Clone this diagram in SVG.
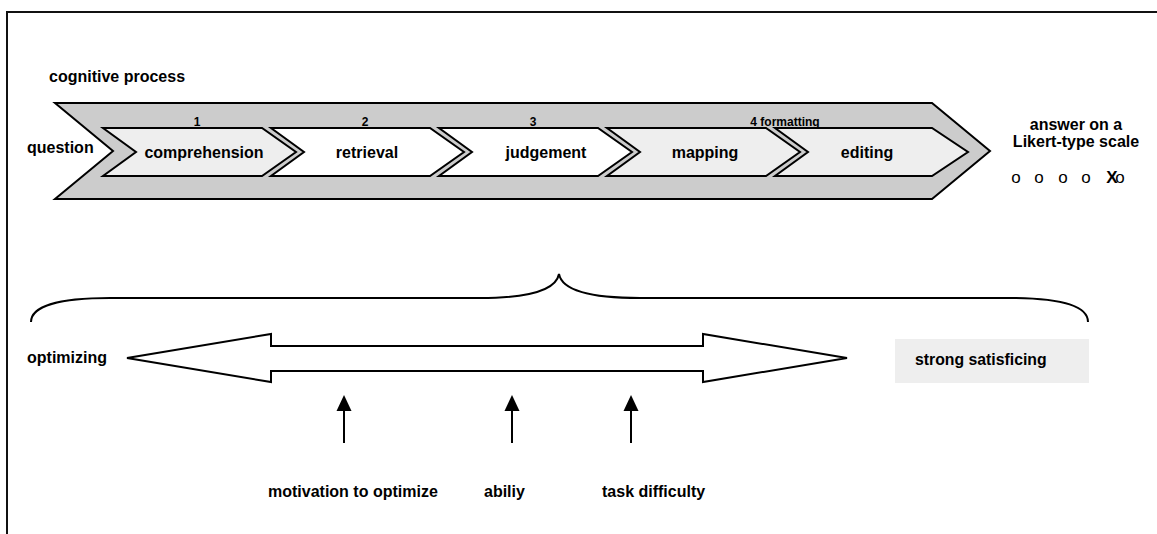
<svg xmlns="http://www.w3.org/2000/svg" width="1157" height="534" viewBox="0 0 1157 534">
<style>
text{font-family:"Liberation Sans",Arial,sans-serif;font-weight:bold;fill:#000}
.t16{font-size:16px}
.t12{font-size:12px}
.c{text-anchor:middle}
.o{font-size:17px;font-weight:normal;text-anchor:middle}
.chev{stroke:#000;stroke-width:2;stroke-linejoin:miter}
.lt{fill:#eeeeee}
.wh{fill:#ffffff}
.ln{fill:none;stroke:#000;stroke-width:2}
</style>
<g id="frame">
<path d="M7,534 L7,12 L1157,12" fill="none" stroke="#111" stroke-width="2"/>
</g>
<text class="t16" x="49" y="82">cognitive process</text>
<g id="process">
<polygon class="chev" fill="#cccccc" points="55,103 932,103 990,151 932,199 55,199 113,151"/>
</g>
<g id="question"><text class="t16" x="27" y="153">question</text></g>
<g id="comprehension">
<polygon class="chev lt" points="103,128 262,128 296,152 262,176 103,176 136,152"/>
<text class="t12 c" x="197" y="126">1</text>
<text class="t16 c" x="204" y="158">comprehension</text>
</g>
<g id="retrieval">
<polygon class="chev wh" points="271,128 430,128 464,152 430,176 271,176 304,152"/>
<text class="t12 c" x="365" y="126">2</text>
<text class="t16 c" x="367" y="158">retrieval</text>
</g>
<g id="judgement">
<polygon class="chev wh" points="439,128 598,128 632,152 598,176 439,176 472,152"/>
<text class="t12 c" x="533" y="126">3</text>
<text class="t16 c" x="546" y="158">judgement</text>
</g>
<g id="mapping">
<polygon class="chev lt" points="607,128 766,128 800,152 766,176 607,176 640,152"/>
<text class="t16 c" x="705" y="158">mapping</text>
</g>
<g id="editing">
<polygon class="chev lt" points="775,128 932,128 968,152 932,176 775,176 808,152"/>
<text class="t16 c" x="867" y="158">editing</text>
</g>
<text class="t12 c" x="785" y="126">4 formatting</text>
<g id="answer">
<text class="t16 c" x="1076" y="130">answer on a</text>
<text class="t16 c" x="1076" y="147">Likert-type scale</text>
<text class="o" x="1016" y="183">o</text>
<text class="o" x="1039" y="183">o</text>
<text class="o" x="1063" y="183">o</text>
<text class="o" x="1086" y="183">o</text>
<text class="t16 c" x="1112" y="183" style="font-size:17px">X</text>
<text class="o" x="1120" y="183">o</text>
</g>
<g id="brace">
<path class="ln" d="M31,322 C31,306 60,298 110,298 L480,298 C530,298 556,290 559,274 C562,290 590,298 640,298 L1008,298 C1060,298 1088,306 1088,322"/>
</g>
<g id="optimizing"><text class="t16" x="27" y="363">optimizing</text></g>
<g id="continuum">
<polygon fill="#fff" stroke="#000" stroke-width="2" points="127,358 271,334 271,346 703,346 703,334 847,358 703,382 703,371 271,371 271,382"/>
</g>
<g id="satisficing">
<rect x="895" y="339" width="194" height="44" fill="#eeeeee"/>
<text x="915" y="365" style="font-size:15.8px">strong satisficing</text>
</g>
<g id="connectors">
<line x1="344" y1="443" x2="344" y2="408" stroke="#000" stroke-width="2"/>
<polygon points="344,395 336.5,411 351.5,411" fill="#000"/>
<line x1="512" y1="443" x2="512" y2="408" stroke="#000" stroke-width="2"/>
<polygon points="512,395 504.5,411 519.5,411" fill="#000"/>
<line x1="631" y1="443" x2="631" y2="408" stroke="#000" stroke-width="2"/>
<polygon points="631,395 623.5,411 638.5,411" fill="#000"/>
</g>
<g id="motivation"><text class="t16" x="268" y="497">motivation to optimize</text></g>
<g id="ability"><text class="t16" x="484" y="497">abiliy</text></g>
<g id="difficulty"><text class="t16" x="602" y="497">task difficulty</text></g>
</svg>
